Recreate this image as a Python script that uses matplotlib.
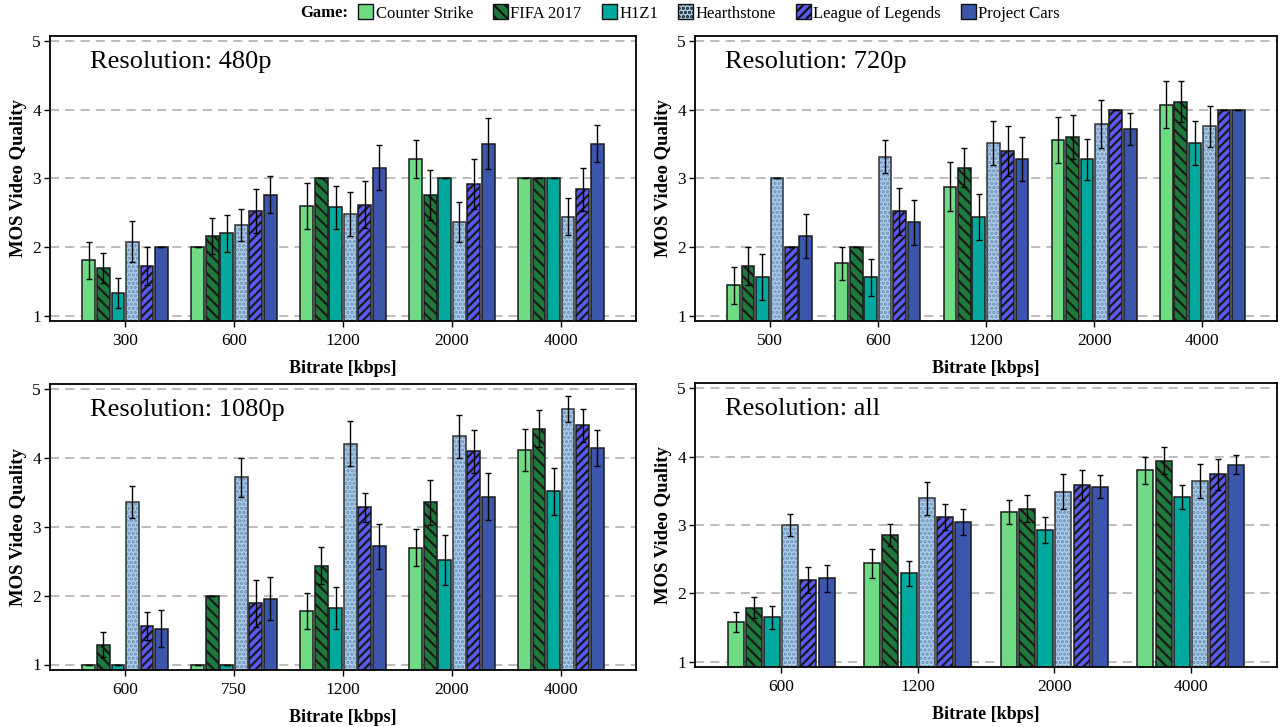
import numpy as np
import matplotlib
matplotlib.use("Agg")
import matplotlib.pyplot as plt
from matplotlib.patches import Patch

games = ["Counter Strike", "FIFA 2017", "H1Z1", "Hearthstone", "League of Legends", "Project Cars"]
colors = ["#6fdc85", "#1d7a3c", "#00a89d", "#a9cde9", "#5a5af7", "#3c56ac"]
hatches = [None, "\\\\\\", None, "....", "////", None]

titles = ["Resolution: 480p", "Resolution: 720p", "Resolution: 1080p", "Resolution: all"]
bitrates_480 = ["300", "600", "1200", "2000", "4000"]
bitrates_720 = ["500", "600", "1200", "2000", "4000"]
bitrates_1080 = ["600", "750", "1200", "2000", "4000"]
bitrates_all = ["600", "1200", "2000", "4000"]

# rows: games, columns: bitrates
mos_480 = [[1.81, 2.00, 2.60, 3.28, 3.00],
           [1.69, 2.16, 3.00, 2.76, 3.00],
           [1.33, 2.20, 2.58, 3.00, 3.00],
           [2.08, 2.32, 2.48, 2.36, 2.44],
           [1.72, 2.52, 2.62, 2.92, 2.84],
           [2.00, 2.76, 3.16, 3.51, 3.51]]
err_480 = [[0.27, 0.00, 0.34, 0.28, 0.00],
           [0.22, 0.26, 0.00, 0.36, 0.00],
           [0.22, 0.27, 0.31, 0.00, 0.00],
           [0.30, 0.23, 0.32, 0.29, 0.27],
           [0.28, 0.32, 0.34, 0.36, 0.31],
           [0.00, 0.27, 0.33, 0.37, 0.27]]

mos_720 = [[1.44, 1.76, 2.88, 3.56, 4.08],
           [1.72, 2.00, 3.16, 3.60, 4.12],
           [1.56, 1.56, 2.44, 3.28, 3.52],
           [3.00, 3.32, 3.52, 3.80, 3.76],
           [2.00, 2.52, 3.40, 4.00, 4.00],
           [2.16, 2.36, 3.28, 3.72, 4.00]]
err_720 = [[0.27, 0.24, 0.36, 0.34, 0.34],
           [0.28, 0.00, 0.28, 0.32, 0.30],
           [0.34, 0.27, 0.34, 0.30, 0.32],
           [0.00, 0.24, 0.32, 0.35, 0.30],
           [0.00, 0.34, 0.36, 0.00, 0.00],
           [0.32, 0.33, 0.32, 0.23, 0.00]]

mos_1080 = [[1.00, 1.00, 1.78, 2.70, 4.12],
            [1.29, 2.00, 2.44, 3.36, 4.43],
            [1.00, 1.00, 1.82, 2.52, 3.52],
            [3.36, 3.72, 4.21, 4.32, 4.72],
            [1.56, 1.89, 3.29, 4.10, 4.48],
            [1.52, 1.96, 2.72, 3.44, 4.15]]
err_1080 = [[0.00, 0.00, 0.26, 0.27, 0.31],
            [0.18, 0.00, 0.27, 0.33, 0.27],
            [0.00, 0.00, 0.31, 0.36, 0.34],
            [0.23, 0.28, 0.33, 0.31, 0.19],
            [0.21, 0.34, 0.21, 0.31, 0.24],
            [0.27, 0.31, 0.33, 0.34, 0.26]]

mos_all = [[1.58, 2.44, 3.19, 3.80],
           [1.79, 2.85, 3.24, 3.94],
           [1.65, 2.29, 2.92, 3.41],
           [3.00, 3.39, 3.49, 3.64],
           [2.20, 3.12, 3.59, 3.74],
           [2.22, 3.05, 3.56, 3.88]]
err_all = [[0.14, 0.21, 0.18, 0.20],
           [0.15, 0.16, 0.20, 0.20],
           [0.17, 0.19, 0.19, 0.18],
           [0.16, 0.24, 0.26, 0.25],
           [0.19, 0.19, 0.22, 0.23],
           [0.20, 0.19, 0.17, 0.14]]

plt.rcParams['font.family'] = ['Liberation Serif', 'DejaVu Serif']
plt.rcParams['hatch.linewidth'] = 1.6

fig = plt.figure(figsize=(12.82, 7.27), dpi=100)
W, H = 1282, 727
boxes = [(50, 36, 636, 321), (695, 36, 1277, 321), (50, 384, 636, 670), (695, 383, 1277, 667)]
datasets = [(bitrates_480, mos_480, err_480), (bitrates_720, mos_720, err_720),
            (bitrates_1080, mos_1080, err_1080), (bitrates_all, mos_all, err_all)]
title_x = [0.068, 0.052, 0.068, 0.052]

for idx, ((l, t, r, b), (cats, mos, err)) in enumerate(zip(boxes, datasets)):
    ax = fig.add_axes([l / W, 1 - b / H, (r - l) / W, (b - t) / H])
    n = len(cats)
    x = np.arange(n)
    slot = 0.8 / 6
    for g in range(6):
        xs = x - 0.4 + slot * (g + 0.5)
        vals = np.array(mos[g])
        ev = np.array(err[g])
        if g == 3:
            ax.bar(xs, vals, width=slot * 0.88, color=colors[g], edgecolor="#6f8fb8",
                   hatch=hatches[g], linewidth=0, zorder=2)
            ax.bar(xs, vals, width=slot * 0.88, color="none", edgecolor="#333333",
                   linewidth=1.1, zorder=3)
        else:
            ax.bar(xs, vals, width=slot * 0.88, color=colors[g], edgecolor="#1a1a1a",
                   hatch=hatches[g], linewidth=1.1, zorder=2)
        ax.errorbar(xs, vals, yerr=ev, fmt="none", ecolor="black", elinewidth=1.0,
                    capsize=2, capthick=1.0, zorder=4)
    pad = 0.29 if n == 5 else 0.23
    ax.set_xlim(-0.4 - pad, n - 1 + 0.4 + pad)
    ax.set_ylim(0.92, 5.08)
    ax.set_yticks([1, 2, 3, 4, 5])
    ax.set_xticks(x)
    ax.set_xticklabels(cats)
    ax.tick_params(axis="both", labelsize=12.5, length=4.5, width=1)
    ax.tick_params(axis="x", pad=4)
    ax.tick_params(axis="y", pad=2)
    ax.grid(axis="y", linestyle=(0, (6, 4)), color="#aaaaaa", linewidth=1.1, zorder=0)
    ax.set_axisbelow(True)
    for s in ax.spines.values():
        s.set_linewidth(1.3)
    ax.set_ylabel("MOS Video Quality", fontsize=13.5, fontweight="bold", labelpad=4)
    ax.set_xlabel("Bitrate [kbps]", fontsize=13, fontweight="bold", labelpad=8)
    ax.text(title_x[idx], 0.91, titles[idx], transform=ax.transAxes, fontsize=19,
            va="center", ha="left")

handles = [Patch(facecolor=c, edgecolor="#111111", hatch=h, linewidth=1.0) for c, h in zip(colors, hatches)]
fig.text(300 / W, 1 - 13 / H, "Game:", fontsize=12, fontweight="bold", va="center", ha="left")
fig.legend(handles, games, loc="center left", bbox_to_anchor=(358 / W, 1 - 13 / H), ncol=6,
           frameon=False, fontsize=12, handlelength=0.9, handleheight=1.0, handletextpad=0.15,
           columnspacing=1.2, borderpad=0, borderaxespad=0)

fig.savefig("out.png", dpi=100)
